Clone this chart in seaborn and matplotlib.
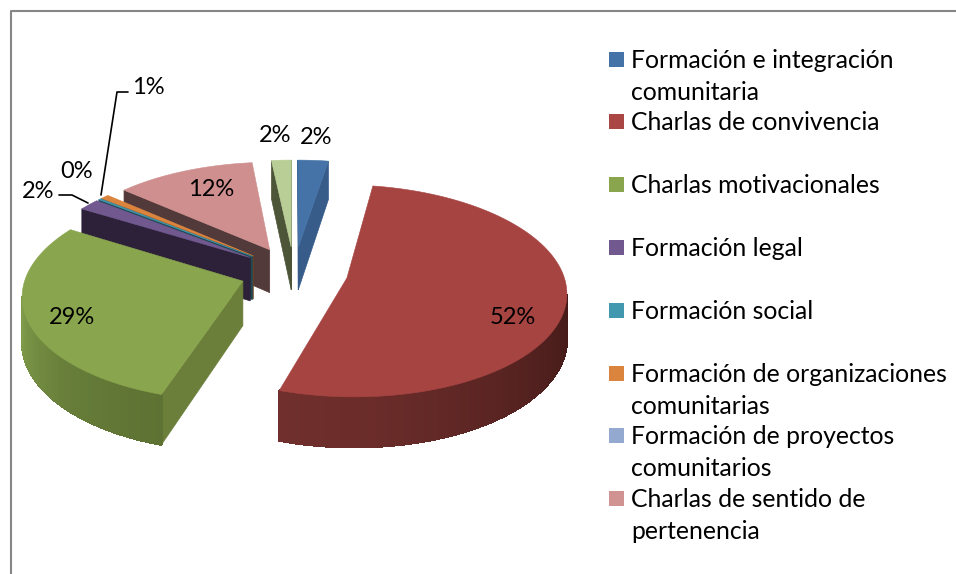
import numpy as np
import matplotlib
matplotlib.use('Agg')
import matplotlib.pyplot as plt
from matplotlib.patches import Polygon, Rectangle
import seaborn as sns

# legend rows (the light green slice has no legend entry in the original)
legend_labels = [
    'Formación e integración\ncomunitaria',
    'Charlas de convivencia',
    'Charlas motivacionales',
    'Formación legal',
    'Formación social',
    'Formación de organizaciones\ncomunitarias',
    'Formación de proyectos\ncomunitarios',
    'Charlas de sentido de\npertenencia',
]
legend_colors = ['#4573A7', '#AA4644', '#89A54E', '#71588F', '#4298AF', '#DB843D', '#93A9CF', '#D19392']

# slices clockwise from 12 o'clock, shares
slice_names = ['integracion', 'convivencia', 'motivacionales', 'legal', 'social', 'organizaciones', 'sentido', 'otros']
slice_values = [2.6, 52.3, 28.8, 1.8, 0.2, 0.7, 11.9, 1.7]
slice_labels = ['2%', '52%', '29%', '2%', '0%', '1%', '12%', '2%']
slice_colors = ['#4573A7', '#A64442', '#89A54E', '#71588F', '#4298AF', '#DB843D', '#CF8F8E', '#B9CD96']
cut_colors = ['#375C8A', '#4A1C1A', '#6B7F3A', '#2C2138', '#1F4A55', '#6E421E', '#533A3A', '#4C5538']
wall_left = ['#375C8A', '#702F2C', '#7F9C4A', '#2C2138', '#1F4A55', '#6E421E', '#533A3A', '#4C5538']
wall_right = ['#375C8A', '#431A18', '#5E7233', '#2C2138', '#1F4A55', '#6E421E', '#533A3A', '#4C5538']

# pie geometry in pixels
cx, cy = 294, 272
rx, ry = 216, 103
depth = 44
explode = 0.25
persp = 0.12


def project(X, Y, drop=0.0):
    s = 1 / (1 + persp * Y)
    return np.column_stack([cx + X * rx * s, cy - Y * ry * s + drop * depth * s])


def side(a, b, p):
    return (b[0] - a[0]) * (p[1] - a[1]) - (b[1] - a[1]) * (p[0] - a[0])


def faces_down(a, b, inner):
    # a face shows if moving down on screen leaves the slice
    return side(a, b, (a[0], a[1] + 1)) * side(a, b, inner) < 0


sns.set_theme(style='white')
plt.rcParams['font.family'] = ['Lato', 'DejaVu Sans']

fig, ax = plt.subplots(figsize=(9.56, 5.74), dpi=100)
ax.set_position([0, 0, 1, 1])
ax.set_xlim(0, 956)
ax.set_ylim(574, 0)
ax.axis('off')

shares = np.array(slice_values) / sum(slice_values) * 2 * np.pi
ends = np.cumsum(shares)
starts = ends - shares
mids = (starts + ends) / 2

# back slices first
for i in np.argsort(-np.cos(mids)):
    ox, oy = explode * np.sin(mids[i]), explode * np.cos(mids[i])
    th = np.linspace(starts[i], ends[i], max(int(shares[i] * 60), 2))
    X = ox + np.sin(th)
    Y = oy + np.cos(th)
    top_arc = project(X, Y)
    low_arc = project(X, Y, 1)
    apex = project(np.array([ox]), np.array([oy]))[0]
    apex_low = project(np.array([ox]), np.array([oy]), 1)[0]
    inner = project(np.array([ox + 0.5 * np.sin(mids[i])]), np.array([oy + 0.5 * np.cos(mids[i])]))[0]

    # flat cut faces
    for k in (0, -1):
        if faces_down(apex, top_arc[k], inner):
            ax.add_patch(Polygon([apex, top_arc[k], low_arc[k], apex_low], fc=cut_colors[i], ec=cut_colors[i], lw=0.5, zorder=2))

    # outer wall, shaded in bands, drawn with aliasing off so no seams show
    shades = sns.blend_palette([wall_left[i], wall_right[i]], len(th))
    rank = np.argsort(np.argsort(top_arc[:, 0]))
    for k in range(len(th) - 1):
        if faces_down(top_arc[k], top_arc[k + 1], apex):
            c = shades[rank[k]]
            ax.add_patch(Polygon([top_arc[k], top_arc[k + 1], low_arc[k + 1], low_arc[k]], fc=c, ec=c, lw=1, antialiased=False, zorder=2))

    ax.add_patch(Polygon(np.vstack([apex, top_arc]), fc=slice_colors[i], ec=slice_colors[i], lw=0.4, zorder=2))

# data labels
label_x = [316, 513, 72, 38, 77, 148, 211, 275]
label_y = [137, 317, 317, 191, 172, 87, 190, 136]
for t, x, y in zip(slice_labels, label_x, label_y):
    ax.text(x, y, t, fontsize=17, color='black', ha='center', va='center', zorder=5)

# leader lines
ax.plot([101, 117, 128], [195, 92, 92], color='black', lw=1.2, zorder=4)
ax.plot([59, 72, 88], [195, 195, 203], color='black', lw=1.2, zorder=4)

# legend
for j, (name, col) in enumerate(zip(legend_labels, legend_colors)):
    y = 59 + 62.8 * j
    ax.add_patch(Rectangle((609, y - 7.5), 15, 15, fc=col, ec='none', zorder=5))
    for n, line in enumerate(name.split('\n')):
        ax.text(631, y + 1 + n * 32, line, fontsize=17.8, color='black', ha='left', va='center', zorder=5)

# frame of the pasted picture
ax.plot([11.5, 11.5, 956], [574, 10.5, 10.5], color='#868686', lw=1.5, zorder=6, clip_on=False)

fig.savefig('out.png', dpi=100)
